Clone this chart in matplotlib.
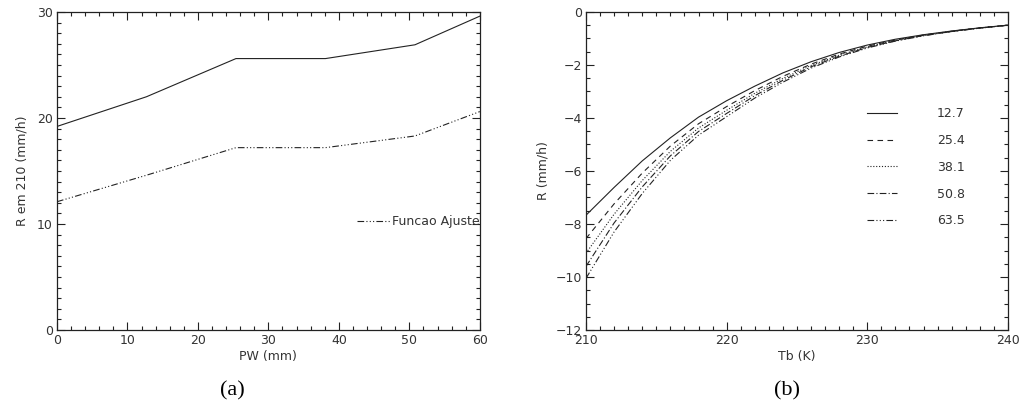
import numpy as np
import matplotlib
matplotlib.use('Agg')
import matplotlib.pyplot as plt
from matplotlib.ticker import MultipleLocator

# --- dati (a): R em 210 K contro PW ---
pw = [0, 12.7, 25.4, 38.1, 50.8, 60]
r_obs = [19.2, 22.0, 25.6, 25.6, 26.9, 29.6]
r_ajuste = [12.1, 14.6, 17.2, 17.2, 18.3, 20.6]

# --- dati (b): R contro Tb per vari PW ---
tb = [210, 212, 214, 216, 218, 220, 222, 224, 226, 228, 230, 232, 234, 236, 238, 240]
r_127 = [-7.67, -6.62, -5.62, -4.75, -3.97, -3.35, -2.80, -2.30, -1.88, -1.53, -1.25, -1.03, -0.86, -0.72, -0.60, -0.50]
r_254 = [-8.55, -7.24, -6.08, -5.06, -4.22, -3.57, -2.97, -2.43, -1.97, -1.59, -1.29, -1.06, -0.87, -0.73, -0.60, -0.50]
r_381 = [-9.10, -7.63, -6.36, -5.26, -4.38, -3.71, -3.07, -2.51, -2.02, -1.63, -1.32, -1.07, -0.88, -0.73, -0.61, -0.50]
r_508 = [-9.60, -7.96, -6.60, -5.43, -4.51, -3.83, -3.16, -2.58, -2.07, -1.67, -1.34, -1.09, -0.89, -0.74, -0.61, -0.50]
r_635 = [-10.05, -8.30, -6.85, -5.60, -4.65, -3.95, -3.25, -2.65, -2.12, -1.70, -1.36, -1.10, -0.90, -0.74, -0.61, -0.50]
labels_b = ['12.7', '25.4', '38.1', '50.8', '63.5']

# stili di linea tipo IDL
stili = ['-', (0, (5, 4)), (0, (1, 1.6)), (0, (6, 2, 1, 2)), (0, (6, 2, 1, 2, 1, 2, 1, 2))]
col = '#222222'
txt = '#333333'
lw = 0.8

plt.rcParams['font.family'] = 'DejaVu Sans'
plt.rcParams['font.size'] = 9


def stile_assi(ax):
    ax.tick_params(which='both', direction='in', top=True, right=True,
                   colors=col, labelcolor=txt, pad=3, width=0.8)
    ax.tick_params(which='major', length=6)
    ax.tick_params(which='minor', length=3)
    for s in ax.spines.values():
        s.set_linewidth(0.9)
        s.set_color(col)


fig = plt.figure(figsize=(10.23, 4.11), dpi=100)
ax1 = fig.add_axes([0.0557, 0.197, 0.4133, 0.774])
ax2 = fig.add_axes([0.5728, 0.197, 0.4125, 0.774])

# (a)
ax1.plot(pw, r_obs, color=col, lw=lw, ls='-')
ax1.plot(pw, r_ajuste, color=col, lw=lw, ls=stili[4], label='Funcao Ajuste')
ax1.set_xlim(0, 60)
ax1.set_ylim(0, 30)
ax1.xaxis.set_major_locator(MultipleLocator(10))
ax1.xaxis.set_minor_locator(MultipleLocator(2))
ax1.yaxis.set_major_locator(MultipleLocator(10))
ax1.yaxis.set_minor_locator(MultipleLocator(1))
ax1.set_xlabel('PW (mm)', color=txt, labelpad=2)
ax1.set_ylabel('R em 210 (mm/h)', color=txt, labelpad=6)
stile_assi(ax1)
ax1.legend(loc='center right', bbox_to_anchor=(1.0, 0.34), frameon=False,
           handlelength=2.6, handletextpad=0.2, borderpad=0, borderaxespad=0,
           labelcolor=txt)

# (b)
serie_b = [r_127, r_254, r_381, r_508, r_635]
for r, ls, lab in zip(serie_b, stili, labels_b):
    ax2.plot(tb, r, color=col, lw=lw, ls=ls, label=lab)
ax2.set_xlim(210, 240)
ax2.set_ylim(-12, 0)
ax2.xaxis.set_major_locator(MultipleLocator(10))
ax2.xaxis.set_minor_locator(MultipleLocator(1))
ax2.yaxis.set_major_locator(MultipleLocator(2))
ax2.yaxis.set_minor_locator(MultipleLocator(0.5))
ax2.set_xlabel('Tb (K)', color=txt, labelpad=2)
ax2.set_ylabel('R (mm/h)', color=txt, labelpad=4)
stile_assi(ax2)
ax2.legend(loc='upper left', bbox_to_anchor=(0.666, 0.70), frameon=False,
           handlelength=2.4, handletextpad=3.2, labelspacing=1.1,
           borderpad=0, borderaxespad=0, labelcolor=txt)

fig.text(0.227, 0.05, '(a)', fontsize=16, family='Liberation Serif', ha='center', va='center')
fig.text(0.769, 0.05, '(b)', fontsize=16, family='Liberation Serif', ha='center', va='center')

fig.savefig('out.png', dpi=100)
